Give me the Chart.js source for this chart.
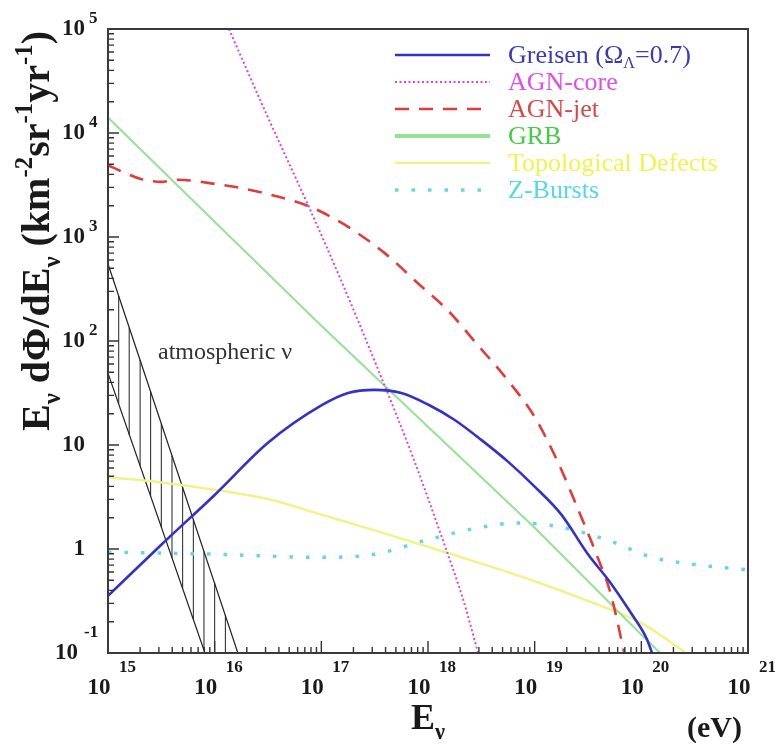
<!DOCTYPE html>
<html>
<head>
<meta charset="utf-8">
<script src="https://cdn.jsdelivr.net/npm/chart.js@4.4.1/dist/chart.umd.min.js"></script>
<style>
  html, body { margin: 0; padding: 0; background: #ffffff; }
  #wrap { width: 775px; height: 747px; }
</style>
</head>
<body>
<div id="wrap"><canvas id="c" width="775" height="747"></canvas></div>
<script>
// Neutrino energy (eV) and flux E dPhi/dE (km^-2 sr^-1 yr^-1) for each model
const greisenE    = [1e15, 3.16e15, 1e16, 3.16e16, 1e17, 1.78e17, 3.16e17, 5.62e17, 1e18, 1.78e18, 3.16e18, 5.62e18, 1e19, 1.78e19, 3.16e19, 5.01e19, 7.94e19, 1.12e20, 1.26e20];
const greisenFlux = [0.355, 1.10, 3.31, 10.5, 24.0, 31.6, 33.9, 31.6, 24.5, 17.4, 11.2, 6.92, 3.98, 2.14, 0.891, 0.49, 0.245, 0.138, 0.1];

const agnCoreE    = [1.12e16, 3.16e16, 7.41e16, 1.58e17, 3.55e17, 7.24e17, 1.45e18, 2.14e18, 2.95e18];
const agnCoreFlux = [158000, 14100, 2090, 355, 47.9, 7.59, 1.05, 0.324, 0.1];

const agnJetE    = [1e15, 1.41e15, 2.0e15, 3.16e15, 4.47e15, 6.31e15, 1e16, 1.58e16, 3.55e16, 7.41e16, 1.58e17, 3.98e17, 7.94e17, 1.58e18, 2.82e18, 5.62e18, 1e19, 1.66e19, 2.51e19, 3.89e19, 5.13e19, 6.92e19];
const agnJetFlux = [4900, 4170, 3630, 3390, 3550, 3470, 3240, 3020, 2510, 2000, 1350, 692, 363, 191, 95.5, 41.7, 18.6, 6.76, 2.51, 0.832, 0.380, 0.1];

const grbE    = [1e15, 1e16, 1e17, 1e18, 1e19, 1e20, 1.5e20];
const grbFlux = [14100, 1400, 140, 15, 1.6, 0.15, 0.1];

const tdE    = [1e15, 3.16e15, 1e16, 3.16e16, 1e17, 3.16e17, 1e18, 3.16e18, 1e19, 3.16e19, 1e20, 2.63e20];
const tdFlux = [4.90, 4.37, 3.72, 3.02, 2.14, 1.51, 1.05, 0.724, 0.490, 0.316, 0.195, 0.1];

const zbE    = [1e15, 1e16, 1e17, 3.16e17, 1e18, 3.16e18, 7.08e18, 1.78e19, 5.01e19, 1.26e20, 3.16e20, 1e21];
const zbFlux = [0.933, 0.891, 0.832, 0.891, 1.23, 1.62, 1.78, 1.62, 1.20, 0.832, 0.708, 0.631];

// Atmospheric neutrino band: upper and lower edges, and the vertical hatch strokes
const atmUpperE    = [1e15, 1.65e16];
const atmUpperFlux = [550, 0.1];
const atmLowerE    = [1e15, 8.11e15];
const atmLowerFlux = [49, 0.1];
const hatchE    = [1.26e15, 1.58e15, 2.0e15, 2.51e15, 3.16e15, 3.98e15, 5.01e15, 6.31e15, 7.94e15, 1e16, 1.26e16];
const hatchLow  = [24.8, 12.5, 6.3, 3.2, 1.62, 0.82, 0.415, 0.21, 0.106, 0.1, 0.1];
const hatchHigh = [271, 134, 65.9, 32.5, 16.0, 7.9, 3.9, 1.92, 0.95, 0.47, 0.23];

// Axis tick labels: base and exponent
const xTickValues = [1e15, 1e16, 1e17, 1e18, 1e19, 1e20, 1e21];
const xTickExps   = ['15', '16', '17', '18', '19', '20', '21'];
const yTickValues = [0.1, 1, 10, 100, 1e3, 1e4, 1e5];
const yTickBases  = ['10', '1', '10', '10', '10', '10', '10'];
const yTickExps   = ['-1', '', '', '2', '3', '4', '5'];

const legendNames = ['Greisen', 'AGN-core', 'AGN-jet', 'GRB', 'Topological Defects', 'Z-Bursts'];
const legendTextColors = ['#3a3ab8', '#e050e0', '#d84848', '#44cc44', '#f2f250', '#55d8e8'];

const zip = (xs, ys) => xs.map((v, i) => ({ x: v, y: ys[i] }));

// hatch strokes as separate segments split by gaps
const hatchData = [];
hatchE.forEach((e, i) => {
  hatchData.push({ x: e, y: hatchLow[i] }, { x: e, y: hatchHigh[i] }, { x: e, y: null });
});

const SERIF = '"Liberation Serif", "DejaVu Serif", serif';

const modelSets = [
  { label: 'Greisen', data: zip(greisenE, greisenFlux), borderColor: '#3232c8', borderWidth: 2.6, borderDash: [], smooth: true },
  { label: 'AGN-core', data: zip(agnCoreE, agnCoreFlux), borderColor: '#e040e0', borderWidth: 2, borderDash: [2, 2.5], smooth: true },
  { label: 'AGN-jet', data: zip(agnJetE, agnJetFlux), borderColor: '#e03c3c', borderWidth: 2.6, borderDash: [14, 10], smooth: true },
  { label: 'GRB', data: zip(grbE, grbFlux), borderColor: '#96e296', borderWidth: 2, borderDash: [], smooth: false },
  { label: 'Topological Defects', data: zip(tdE, tdFlux), borderColor: '#f2f28a', borderWidth: 2.5, borderDash: [], smooth: true },
  { label: 'Z-Bursts', data: zip(zbE, zbFlux), borderColor: '#66d6e6', borderWidth: 3.5, borderDash: [3.5, 13], smooth: true },
];

const datasets = modelSets.map(s => Object.assign({
  pointRadius: 0, fill: false, clip: 0,
  cubicInterpolationMode: s.smooth ? 'monotone' : 'default', tension: 0
}, s));

datasets.push(
  { label: 'atm-upper', data: zip(atmUpperE, atmUpperFlux), borderColor: '#222', borderWidth: 1.2, pointRadius: 0, clip: 0 },
  { label: 'atm-lower', data: zip(atmLowerE, atmLowerFlux), borderColor: '#222', borderWidth: 1.2, pointRadius: 0, clip: 0 },
  { label: 'atm-hatch', data: hatchData, borderColor: '#222', borderWidth: 1, pointRadius: 0, spanGaps: false, clip: 0 }
);

function drawSegments(ctx, segs, x, y, size) {
  // segs: [text, kind] where kind is 'n' normal, 'sub', 'sup'
  let cx = x;
  segs.forEach(([t, kind]) => {
    let fs = size, dy = 0;
    if (kind === 'sub') { fs = size * 0.62; dy = size * 0.28; }
    if (kind === 'sup') { fs = size * 0.62; dy = -size * 0.42; }
    ctx.font = ctx._weight + ' ' + fs + 'px ' + SERIF;
    ctx.fillText(t, cx, y + dy);
    cx += ctx.measureText(t).width;
  });
  return cx - x;
}
function measureSegments(ctx, segs, size) {
  let w = 0;
  segs.forEach(([t, kind]) => {
    const fs = kind === 'n' ? size : size * 0.62;
    ctx.font = ctx._weight + ' ' + fs + 'px ' + SERIF;
    w += ctx.measureText(t).width;
  });
  return w;
}

const decorations = {
  id: 'decorations',
  afterDatasetsDraw(chart) {
    const { ctx, chartArea: a, scales: { x, y } } = chart;
    ctx.save();

    // ticks on the left and bottom axes, pointing inward
    ctx.strokeStyle = '#333';
    ctx.lineWidth = 1.4;
    ctx.beginPath();
    for (let d = 15; d <= 20; d++) {
      for (let k = 1; k <= 9; k++) {
        const px = x.getPixelForValue(k * Math.pow(10, d));
        const len = k === 1 ? 12 : 6;
        ctx.moveTo(px, a.bottom); ctx.lineTo(px, a.bottom - len);
      }
    }
    for (let d = -1; d <= 4; d++) {
      for (let k = 1; k <= 9; k++) {
        const py = y.getPixelForValue(k * Math.pow(10, d));
        const len = k === 1 ? 11 : 6;
        ctx.moveTo(a.left, py); ctx.lineTo(a.left + len, py);
      }
    }
    ctx.stroke();

    // frame
    ctx.strokeStyle = '#3a3a3a';
    ctx.lineWidth = 2;
    ctx.strokeRect(a.left, a.top, a.right - a.left, a.bottom - a.top);

    // tick labels
    ctx.fillStyle = '#1a1a1a';
    ctx.textBaseline = 'middle';
    xTickValues.forEach((v, i) => {
      const px = x.getPixelForValue(v);
      ctx.font = 'bold 23px ' + SERIF;
      ctx.textAlign = 'center';
      ctx.fillText('10', px - 9, 688);
      ctx.font = 'bold 17px ' + SERIF;
      ctx.textAlign = 'left';
      ctx.fillText(xTickExps[i], px + 11, 668);
    });
    yTickValues.forEach((v, i) => {
      const py = y.getPixelForValue(v);
      const low = i === 0;
      ctx.font = 'bold 23px ' + SERIF;
      ctx.textAlign = 'right';
      ctx.fillText(yTickBases[i], low ? 78 : 85, py);
      if (yTickExps[i]) {
        ctx.font = 'bold 17px ' + SERIF;
        ctx.textAlign = 'left';
        ctx.fillText(yTickExps[i], low ? 84 : 89, py - (low ? 20 : 10));
      }
    });

    // axis titles
    ctx.textAlign = 'left';
    ctx.textBaseline = 'alphabetic';
    ctx._weight = 'bold';
    ctx.fillStyle = '#1a1a1a';
    drawSegments(ctx, [['E', 'n'], ['ν', 'sub']], 411, 729, 36);
    drawSegments(ctx, [['(eV)', 'n']], 687, 737, 30);

    const ySegs = [['E', 'n'], ['ν', 'sub'], [' dΦ/dE', 'n'], ['ν', 'sub'], [' (km', 'n'], ['-2', 'sup'],
                   ['sr', 'n'], ['-1', 'sup'], ['yr', 'n'], ['-1', 'sup'], [')', 'n']];
    let ys = 32;
    const wAt = measureSegments(ctx, ySegs, ys);
    ys = ys * 400 / wAt;
    ctx.save();
    ctx.translate(49, 431);
    ctx.rotate(-Math.PI / 2);
    drawSegments(ctx, ySegs, 0, 0, ys);
    ctx.restore();

    // legend
    ctx._weight = 'normal';
    ctx.textBaseline = 'middle';
    modelSets.forEach((s, i) => {
      const ry = 55 + i * 27;
      ctx.strokeStyle = s.borderColor;
      ctx.lineWidth = i === 3 ? 4 : s.borderWidth;
      ctx.setLineDash(s.borderDash);
      ctx.beginPath();
      ctx.moveTo(395, ry); ctx.lineTo(490, ry);
      ctx.stroke();
      ctx.setLineDash([]);
      ctx.fillStyle = legendTextColors[i];
      if (i === 0) {
        drawSegments(ctx, [['Greisen (Ω', 'n'], ['Λ', 'sub'], ['=0.7)', 'n']], 508, ry + 1, 26);
      } else {
        ctx.font = '26px ' + SERIF;
        ctx.fillText(legendNames[i], 508, ry + 1);
      }
    });

    // band annotation
    ctx.fillStyle = '#333';
    ctx.font = '24px ' + SERIF;
    ctx.textBaseline = 'middle';
    ctx.fillText('atmospheric ν', 158, 353);

    ctx.restore();
  }
};

new Chart(document.getElementById('c'), {
  type: 'line',
  data: { datasets },
  options: {
    responsive: false,
    animation: false,
    devicePixelRatio: 1,
    layout: { padding: { left: 108, top: 29, right: 27, bottom: 94 } },
    plugins: { legend: { display: false }, tooltip: { enabled: false } },
    scales: {
      x: { type: 'logarithmic', min: 1e15, max: 1e21, display: false },
      y: { type: 'logarithmic', min: 0.1, max: 1e5, display: false }
    }
  },
  plugins: [decorations]
});
</script>
</body>
</html>
